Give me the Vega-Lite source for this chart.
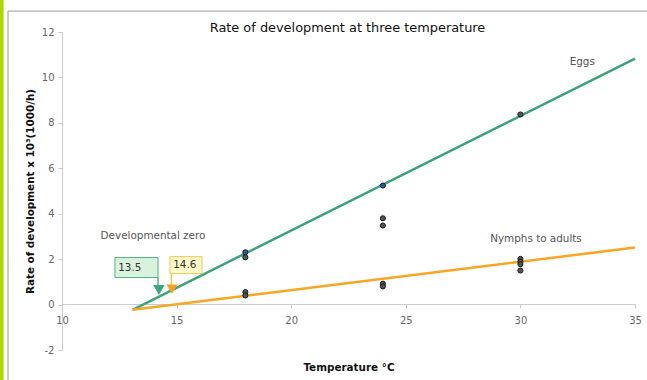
{
  "$schema": "https://vega.github.io/schema/vega-lite/v6.json",
  "width": 573,
  "height": 318,
  "autosize": {"type": "none"},
  "padding": {"left": 62, "top": 32, "right": 12, "bottom": 30},
  "background": "white",
  "config": {
    "view": {"stroke": null},
    "font": "DejaVu Sans"
  },
  "title": {
    "text": "Rate of development at three temperature",
    "font": "DejaVu Sans",
    "fontSize": 12.9,
    "fontWeight": "normal",
    "color": "#111111",
    "anchor": "middle",
    "frame": "group",
    "offset": 0,
    "dx": -1,
    "dy": 37
  },
  "datasets": {
    "lines": [
      {"series": "Eggs", "temp": 13.08, "rate": -0.23},
      {"series": "Eggs", "temp": 35, "rate": 10.83},
      {"series": "Nymphs to adults", "temp": 13.08, "rate": -0.23},
      {"series": "Nymphs to adults", "temp": 35, "rate": 2.51}
    ],
    "points": [
      {"series": "Eggs", "temp": 18, "rate": 2.3, "kind": "mean"},
      {"series": "Eggs", "temp": 18, "rate": 2.08, "kind": "obs"},
      {"series": "Eggs", "temp": 24, "rate": 5.24, "kind": "mean"},
      {"series": "Eggs", "temp": 24, "rate": 3.8, "kind": "obs"},
      {"series": "Eggs", "temp": 24, "rate": 3.48, "kind": "obs"},
      {"series": "Eggs", "temp": 30, "rate": 8.37, "kind": "obs"},
      {"series": "Nymphs to adults", "temp": 18, "rate": 0.55, "kind": "obs"},
      {"series": "Nymphs to adults", "temp": 18, "rate": 0.4, "kind": "obs"},
      {"series": "Nymphs to adults", "temp": 24, "rate": 0.92, "kind": "obs"},
      {"series": "Nymphs to adults", "temp": 24, "rate": 0.8, "kind": "obs"},
      {"series": "Nymphs to adults", "temp": 30, "rate": 2.01, "kind": "obs"},
      {"series": "Nymphs to adults", "temp": 30, "rate": 1.89, "kind": "obs"},
      {"series": "Nymphs to adults", "temp": 30, "rate": 1.78, "kind": "obs"},
      {"series": "Nymphs to adults", "temp": 30, "rate": 1.5, "kind": "obs"}
    ],
    "labels": [
      {"text": "Eggs", "temp": 32.7, "rate": 10.66},
      {"text": "Nymphs to adults", "temp": 30.68, "rate": 2.9},
      {"text": "Developmental zero", "temp": 13.97, "rate": 3.0}
    ]
  },
  "layer": [
    {
      "data": {"values": [{"a": 1}]},
      "mark": {"type": "rect", "fill": "#aed500", "clip": false},
      "encoding": {
        "x": {"datum": 7.295, "type": "quantitative", "scale": {"domain": [10, 35], "nice": false, "zero": false}},
        "x2": {"datum": 7.45},
        "y": {"datum": 13.5, "type": "quantitative", "scale": {"domain": [-2, 12], "nice": false, "zero": false}},
        "y2": {"datum": -3.5}
      }
    },
    {
      "data": {"values": [{"a": 1}]},
      "mark": {"type": "rule", "color": "#9a9a9a", "strokeWidth": 1, "clip": false},
      "encoding": {
        "x": {"datum": 7.644, "type": "quantitative"},
        "y": {"datum": 12.92, "type": "quantitative"},
        "y2": {"datum": -3.5}
      }
    },
    {
      "data": {"values": [{"a": 1}]},
      "mark": {"type": "rule", "color": "#9a9a9a", "strokeWidth": 1, "clip": false},
      "encoding": {
        "x": {"datum": 7.644, "type": "quantitative"},
        "x2": {"datum": 35.6},
        "y": {"datum": 12.92, "type": "quantitative"}
      }
    },
    {
      "data": {"name": "lines"},
      "mark": {"type": "line", "strokeWidth": 2.5, "clip": false},
      "encoding": {
        "x": {
          "field": "temp",
          "type": "quantitative",
          "scale": {"domain": [10, 35], "nice": false, "zero": false},
          "axis": {
            "values": [10, 15, 20, 25, 30, 35],
            "offset": -46,
            "title": "Temperature °C",
            "titleFont": "DejaVu Sans",
            "titleFontSize": 10.4,
            "titleFontWeight": "bold",
            "titleColor": "#111111",
            "titleY": 63,
            "titleBaseline": "middle",
            "labelFont": "DejaVu Sans",
            "labelFontSize": 10,
            "labelColor": "#666666",
            "labelPadding": 7,
            "labelFlush": false,
            "tickSize": 4,
            "tickColor": "#cccccc",
            "domainColor": "#cccccc",
            "grid": false
          }
        },
        "y": {
          "field": "rate",
          "type": "quantitative",
          "scale": {"domain": [-2, 12], "nice": false, "zero": false},
          "axis": {
            "values": [-2, 0, 2, 4, 6, 8, 10, 12],
            "labelExpr": "replace(datum.label, '−', '-')",
            "title": "Rate of development x 10³(1000/h)",
            "titleFont": "DejaVu Sans",
            "titleFontSize": 10.4,
            "titleFontWeight": "bold",
            "titleColor": "#111111",
            "titleX": -32,
            "titleY": 159,
            "titleAlign": "center",
            "titleBaseline": "middle",
            "titleAngle": -90,
            "labelFont": "DejaVu Sans",
            "labelFontSize": 10,
            "labelColor": "#666666",
            "labelPadding": 4,
            "labelFlush": false,
            "tickSize": 4,
            "tickColor": "#cccccc",
            "domainColor": "#cccccc",
            "grid": false
          }
        },
        "color": {
          "field": "series",
          "type": "nominal",
          "scale": {"domain": ["Eggs", "Nymphs to adults"], "range": ["#3ba57a", "#f6a623"]},
          "legend": null
        }
      }
    },
    {
      "data": {"name": "points"},
      "mark": {"type": "point", "filled": true, "size": 26, "stroke": "#1a1a1a", "strokeWidth": 1, "opacity": 1},
      "encoding": {
        "x": {"field": "temp", "type": "quantitative"},
        "y": {"field": "rate", "type": "quantitative"},
        "fill": {
          "field": "kind",
          "type": "nominal",
          "scale": {"domain": ["mean", "obs"], "range": ["#2b55b5", "#555555"]},
          "legend": null
        }
      }
    },
    {
      "data": {"name": "labels"},
      "mark": {"type": "text", "fontSize": 10.4, "color": "#555555", "font": "DejaVu Sans", "align": "center", "baseline": "middle"},
      "encoding": {
        "x": {"field": "temp", "type": "quantitative"},
        "y": {"field": "rate", "type": "quantitative"},
        "text": {"field": "text"}
      }
    },
    {
      "data": {"values": [{"zero": "13.5", "left": 12.31, "right": 14.19, "low": 1.19, "high": 2.07}]},
      "mark": {"type": "rect", "fill": "#d9f2de", "stroke": "#4fb27e", "strokeWidth": 1},
      "encoding": {
        "x": {"field": "left", "type": "quantitative"},
        "x2": {"field": "right"},
        "y": {"field": "low", "type": "quantitative"},
        "y2": {"field": "high"}
      }
    },
    {
      "data": {"values": [{"zero": "14.6", "left": 14.71, "right": 16.11, "low": 1.37, "high": 2.11}]},
      "mark": {"type": "rect", "fill": "#fff8c8", "stroke": "#f0c85a", "strokeWidth": 1},
      "encoding": {
        "x": {"field": "left", "type": "quantitative"},
        "x2": {"field": "right"},
        "y": {"field": "low", "type": "quantitative"},
        "y2": {"field": "high"}
      }
    },
    {
      "data": {"values": [{"zero": "13.5", "temp": 12.45, "rate": 1.63}, {"zero": "14.6", "temp": 14.85, "rate": 1.76}]},
      "mark": {"type": "text", "fontSize": 10.4, "color": "#333333", "font": "DejaVu Sans", "align": "left", "baseline": "middle"},
      "encoding": {
        "x": {"field": "temp", "type": "quantitative"},
        "y": {"field": "rate", "type": "quantitative"},
        "text": {"field": "zero"}
      }
    },
    {
      "data": {"values": [{"temp": 14.19, "top": 1.19, "bottom": 0.75}]},
      "mark": {"type": "rule", "color": "#4fb27e", "strokeWidth": 1.5},
      "encoding": {
        "x": {"field": "temp", "type": "quantitative"},
        "y": {"field": "top", "type": "quantitative"},
        "y2": {"field": "bottom"}
      }
    },
    {
      "data": {"values": [{"temp": 14.77, "top": 1.37, "bottom": 0.75}]},
      "mark": {"type": "rule", "color": "#f0c85a", "strokeWidth": 1.5},
      "encoding": {
        "x": {"field": "temp", "type": "quantitative"},
        "y": {"field": "top", "type": "quantitative"},
        "y2": {"field": "bottom"}
      }
    },
    {
      "data": {"values": [{"temp": 14.23, "rate": 0.64}]},
      "mark": {"type": "point", "shape": "triangle-down", "filled": true, "size": 130, "color": "#3ba57a", "opacity": 1},
      "encoding": {
        "x": {"field": "temp", "type": "quantitative"},
        "y": {"field": "rate", "type": "quantitative"}
      }
    },
    {
      "data": {"values": [{"temp": 14.8, "rate": 0.68}]},
      "mark": {"type": "point", "shape": "triangle-down", "filled": true, "size": 120, "color": "#f6a020", "opacity": 1},
      "encoding": {
        "x": {"field": "temp", "type": "quantitative"},
        "y": {"field": "rate", "type": "quantitative"}
      }
    }
  ]
}
